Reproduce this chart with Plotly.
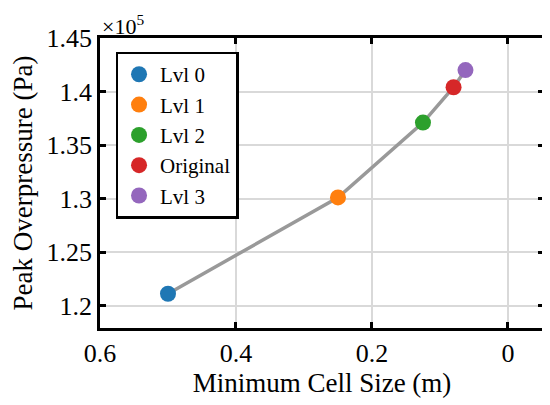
import plotly.graph_objects as go

# --- data ---
labels = ["Lvl 0", "Lvl 1", "Lvl 2", "Original", "Lvl 3"]
cell_size = [0.5, 0.25, 0.125, 0.08, 0.0625]  # m
peak_pressure = [1.211e5, 1.301e5, 1.371e5, 1.404e5, 1.420e5]  # Pa
colors = ["#1f77b4", "#ff7f0e", "#2ca02c", "#d62728", "#9467bd"]

x_ticks = [0.6, 0.4, 0.2, 0]
x_tick_text = ["0.6", "0.4", "0.2", "0"]
y_ticks = [1.2e5, 1.25e5, 1.3e5, 1.35e5, 1.4e5, 1.45e5]
y_tick_text = ["1.2", "1.25", "1.3", "1.35", "1.4", "1.45"]

FONT = "Liberation Serif, serif"

fig = go.Figure()

# grey convergence line behind the markers
fig.add_trace(go.Scatter(
    x=cell_size, y=peak_pressure, mode="lines",
    line=dict(color="#999999", width=3.5),
    showlegend=False, hoverinfo="skip",
))

for lab, xv, yv, c in zip(labels, cell_size, peak_pressure, colors):
    fig.add_trace(go.Scatter(
        x=[xv], y=[yv], mode="markers", name=lab,
        marker=dict(color=c, size=16, line=dict(width=0)),
    ))

axis_common = dict(
    showline=True, linecolor="black", linewidth=2.5, mirror="ticks",
    ticks="inside", ticklen=6, tickwidth=2.5, tickcolor="black",
    showgrid=True, gridcolor="#d9d9d9", gridwidth=2,
    zeroline=False, automargin=False,
    tickfont=dict(family=FONT, size=26, color="black"),
)

fig.update_xaxes(
    range=[0.6, -0.053], tickvals=x_ticks, ticktext=x_tick_text,
    title=dict(text="Minimum Cell Size (m)", font=dict(family=FONT, size=27, color="black"), standoff=6),
    **axis_common,
)
fig.update_yaxes(
    range=[1.179e5, 1.45e5], tickvals=y_ticks, ticktext=y_tick_text,
    title=dict(text="Peak Overpressure (Pa)", font=dict(family=FONT, size=27, color="black"), standoff=8),
    **axis_common,
)

fig.add_annotation(
    text="×10<sup>5</sup>", xref="paper", yref="paper", x=0, y=1,
    xanchor="left", yanchor="bottom", showarrow=False,
    font=dict(family=FONT, size=22, color="black"), yshift=-3,
)

# page body has an 8px margin, so the figure is drawn 8px smaller and shifted
fig.update_layout(
    width=542, height=397,
    margin=dict(l=92, r=6, t=30, b=77),
    font=dict(family=FONT, color="black"),
    plot_bgcolor="white", paper_bgcolor="white",
    legend=dict(
        x=0.035, y=0.953, xanchor="left", yanchor="top",
        bgcolor="white", bordercolor="black", borderwidth=2.5,
        font=dict(family=FONT, size=21, color="black"),
        itemwidth=32, tracegroupgap=0,
    ),
)

fig.write_html("out.html")
